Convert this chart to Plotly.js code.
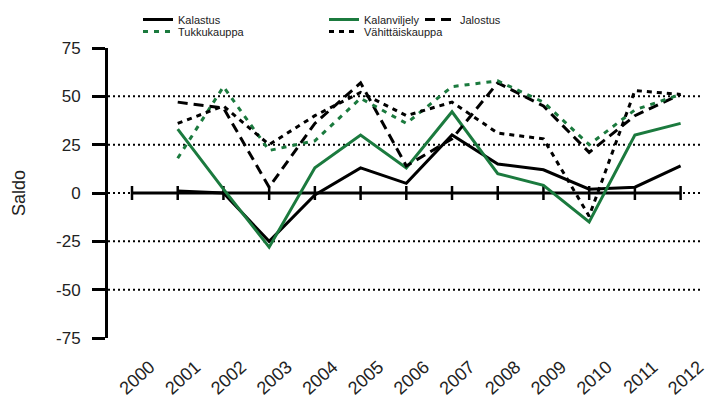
<!DOCTYPE html>
<html>
<head>
<meta charset="utf-8">
<script src="https://cdn.plot.ly/plotly-3.0.1.min.js"></script>
<style>html,body{margin:0;padding:0;background:#fff;}#chart{width:710px;height:403px;}</style>
</head>
<body>
<div id="chart"></div>
<script>
const years = [2000, 2001, 2002, 2003, 2004, 2005, 2006, 2007, 2008, 2009, 2010, 2011, 2012];
const yearLabels = years.map(String);
const kalastus = [null, 1, 0, -25, -1, 13, 5, 30, 15, 12, 2, 3, 14];
const kalanviljely = [null, 33, 2, -28, 13, 30, 13, 42, 10, 4, -15, 30, 36];
const jalostus = [null, 47, 44, 3, 36, 57, 14, 28, 57, 45, 21, 40, 51];
const tukkukauppa = [null, 18, 55, 22, 27, 49, 36, 55, 58, 47, 25, 43, 51];
const vahittaiskauppa = [null, 36, 45, 25, 40, 52, 40, 47, 31, 28, -12, 53, 51];
const baseline = [0, 0, 0, 0, 0, 0, 0, 0, 0, 0, 0, 0, 0];
const yTicks = [-75, -50, -25, 0, 25, 50, 75];
const gridVals = [-50, -25, 0, 25, 50];

const green = '#1b7a3e';
const FONT = 'Liberation Sans, Arial, Helvetica, sans-serif';

const traces = [
  {x: years, y: baseline, mode: 'lines+markers', showlegend: false, hoverinfo: 'skip',
   line: {color: '#000', width: 3},
   marker: {symbol: 'line-ns', size: 10, line: {color: '#000', width: 2.5}}},
  {x: years, y: kalastus, name: 'Kalastus', mode: 'lines', legend: 'legend',
   line: {color: '#000', width: 3}},
  {x: years, y: kalanviljely, name: 'Kalanviljely', mode: 'lines', legend: 'legend',
   line: {color: green, width: 3}},
  {x: years, y: jalostus, name: 'Jalostus', mode: 'lines', legend: 'legend3',
   line: {color: '#000', width: 3, dash: '10px,6px'}},
  {x: years, y: tukkukauppa, name: 'Tukkukauppa', mode: 'lines', legend: 'legend2',
   line: {color: green, width: 3, dash: '5px,6px'}},
  {x: years, y: vahittaiskauppa, name: 'Vähittäiskauppa', mode: 'lines', legend: 'legend2',
   line: {color: '#000', width: 3, dash: '5px,5px'}}
];

const shapes = gridVals.map(v => ({
  type: 'line', xref: 'paper', x0: 0, x1: 1, yref: 'y', y0: v, y1: v, layer: 'below',
  line: {color: '#000', width: 2, dash: '2px,3px'}
}));

const legendCommon = {
  orientation: 'h', xref: 'container', yref: 'container', xanchor: 'left', yanchor: 'top',
  entrywidth: 141, entrywidthmode: 'pixels', bgcolor: 'rgba(0,0,0,0)',
  font: {family: FONT, size: 11, color: '#222'}, itemclick: false, tracegroupgap: 0
};

const layout = {
  width: 710, height: 403,
  margin: {l: 108, r: 8, t: 48, b: 65},
  paper_bgcolor: '#fff', plot_bgcolor: '#fff',
  font: {family: FONT, color: '#111'},
  showlegend: true,
  legend: Object.assign({}, legendCommon, {x: 138 / 710, y: 1 - 5 / 403}),
  legend2: Object.assign({}, legendCommon, {x: 138 / 710, y: 1 - 17 / 403}),
  legend3: Object.assign({}, legendCommon, {x: 420 / 710, y: 1 - 5 / 403}),
  xaxis: {
    range: [1999.475, 2012.468], tickvals: years, ticktext: yearLabels,
    tickangle: -42, showline: false, showgrid: false, zeroline: false, ticks: '',
    tickfont: {family: FONT, size: 18, color: '#222'},
    ticklabelshift: 18, ticklabelstandoff: 14, fixedrange: true
  },
  yaxis: {
    range: [-75, 75], tickvals: yTicks, ticktext: yTicks.map(String),
    showline: true, linewidth: 3, linecolor: '#000', mirror: false,
    ticks: 'outside', ticklen: 13, tickwidth: 3, tickcolor: '#000',
    showgrid: false, zeroline: false,
    tickfont: {family: FONT, size: 17, color: '#222'}, ticklabelstandoff: 8,
    title: {text: 'Saldo', font: {family: FONT, size: 18, color: '#222'}, standoff: 26},
    fixedrange: true
  },
  shapes: shapes
};

Plotly.newPlot('chart', traces, layout, {displayModeBar: false, staticPlot: true});
</script>
</body>
</html>
